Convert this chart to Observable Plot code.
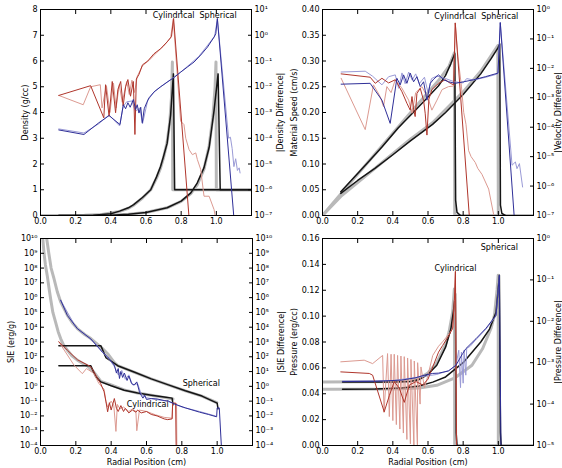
<!DOCTYPE html>
<html><head><meta charset="utf-8">
<script src="https://cdn.jsdelivr.net/npm/d3@7"></script>
<script src="https://cdn.jsdelivr.net/npm/@observablehq/plot@0.6"></script>
<style>
body{margin:0;background:#fff;}
#fig{position:relative;width:562px;height:468px;overflow:hidden;background:#fff;}
#fig svg{position:absolute;}
</style></head><body><div id="fig"></div>
<script>
// ---------- tick values ----------
const xTicks = [0, 0.2, 0.4, 0.6, 0.8, 1.0];
const densTicks = [0, 1, 2, 3, 4, 5, 6, 7, 8];
const densDiffTicks = [1e-7, 1e-6, 1e-5, 1e-4, 1e-3, 1e-2, 1e-1, 1e0, 1e1];
const speedTicks = [0, 0.05, 0.10, 0.15, 0.20, 0.25, 0.30, 0.35, 0.40];
const velDiffTicks = [1e-7, 1e-6, 1e-5, 1e-4, 1e-3, 1e-2, 1e-1, 1e0];
const sieTicks = [1e-4, 1e-3, 1e-2, 1e-1, 1e0, 1e1, 1e2, 1e3, 1e4, 1e5, 1e6, 1e7, 1e8, 1e9, 1e10];
const presTicks = [0, 0.02, 0.04, 0.06, 0.08, 0.10, 0.12, 0.14, 0.16];
const presDiffTicks = [1e-5, 1e-4, 1e-3, 1e-2, 1e-1, 1e0];

// ---------- Density panel ----------
const denExactCyl = [[0,0],[0.25,0.01],[0.35,0.04],[0.45,0.16],[0.5,0.28],[0.53,0.4],[0.58,0.68],[0.627,1.0],[0.66,1.45],[0.683,1.85],[0.7,2.25],[0.72,2.85],[0.735,3.6],[0.745,4.6],[0.75,5.96],[0.752,1.0],[1.2,1.0]];
const denSimCyl = [[0.104,0],[0.3,0.01],[0.4,0.07],[0.45,0.17],[0.5,0.3],[0.53,0.42],[0.58,0.7],[0.627,1.0],[0.66,1.5],[0.683,1.9],[0.7,2.3],[0.72,2.8],[0.74,3.9],[0.756,5.5],[0.763,1.0],[1.2,1.0]];
const denExactSph = [[0,0],[0.4,0.01],[0.5,0.05],[0.6,0.12],[0.72,0.3],[0.8,0.55],[0.855,0.85],[0.892,1.2],[0.93,1.8],[0.959,2.7],[0.98,3.8],[0.993,5.0],[0.998,5.96],[1.0,1.0],[1.2,1.0]];
const denSimSph = [[0.104,0],[0.4,0.01],[0.5,0.05],[0.6,0.12],[0.72,0.3],[0.8,0.56],[0.855,0.88],[0.892,1.27],[0.93,1.86],[0.959,2.64],[0.987,4.07],[1.01,5.5],[1.022,1.0],[1.2,1.0]];
const denDiffCylDark = [[0.104,4.6e-3],[0.285,1.1e-2],[0.36,6.2e-4],[0.37,1.2e-2],[0.39,7.2e-4],[0.408,1.6e-2],[0.427,9.8e-4],[0.44,7.8e-3],[0.456,1.6e-2],[0.47,1.8e-3],[0.484,1e-2],[0.497,1.9e-2],[0.512,4.3e-3],[0.528,1.6e-2],[0.537,1.4e-4],[0.545,2e-2],[0.56,3e-2],[0.58,7.1e-2],[0.61,1e-1],[0.645,1.9e-1],[0.683,3e-1],[0.72,5.5e-1],[0.745,8.9e-1],[0.757,4.5],[0.845,8e-8]];
const denDiffCylLight = [[0.104,4.6e-3],[0.243,2.0e-3],[0.285,1.0e-2],[0.34,1.2e-2],[0.35,1.5e-3],[0.375,1.1e-2],[0.395,1.0e-3],[0.415,1.4e-2],[0.43,1.5e-3],[0.448,1.2e-2],[0.465,2.5e-3],[0.49,1.6e-2],[0.505,5e-3],[0.52,1.8e-2],[0.535,6e-3],[0.55,2.5e-2],[0.58,6.5e-2],[0.62,1.1e-1],[0.66,2.1e-1],[0.7,3.8e-1],[0.74,8e-1],[0.755,4.2],[0.797,4.6e-4],[0.816,3.4e-4],[0.826,1.0e-4],[0.845,3.6e-5],[0.864,2.3e-5],[0.883,2.7e-5],[0.892,1.5e-5],[0.911,6.2e-6],[0.93,5.6e-7],[0.959,5.6e-7],[0.987,1.7e-7],[0.996,8e-8]];
const denDiffSphDark = [[0.104,2.1e-4],[0.247,1.4e-4],[0.332,4e-4],[0.39,7.6e-4],[0.452,3.4e-4],[0.471,2.0e-3],[0.484,1.4e-3],[0.497,2.4e-3],[0.51,1.6e-3],[0.528,3.2e-3],[0.541,1.3e-3],[0.55,2.0e-3],[0.56,9.5e-4],[0.57,1.6e-3],[0.579,4e-4],[0.59,1.4e-3],[0.604,2.4e-3],[0.617,3.7e-3],[0.645,6.2e-3],[0.683,1e-2],[0.72,1.5e-2],[0.76,2.3e-2],[0.797,3.7e-2],[0.835,5.8e-2],[0.873,9.1e-2],[0.911,1.7e-1],[0.95,3.5e-1],[0.987,8.5e-1],[0.997,1.15],[1.006,4.5],[1.1,8e-8]];
const denDiffSphLight = [[0.104,2.3e-4],[0.247,1.6e-4],[0.33,3.6e-4],[0.39,8e-4],[0.45,3.0e-4],[0.47,1.7e-3],[0.49,2.6e-3],[0.52,2.8e-3],[0.54,1.1e-3],[0.565,1.5e-3],[0.58,3.6e-4],[0.61,3e-3],[0.65,6.8e-3],[0.7,1.2e-2],[0.8,3.8e-2],[0.9,1.5e-1],[0.99,9e-1],[1.006,4.2],[1.07,1e-4],[1.08,1.1e-4],[1.09,4e-5],[1.1,7.9e-6],[1.11,1.6e-5],[1.12,5.6e-6],[1.13,7.1e-6],[1.135,4.5e-6]];

// ---------- Velocity panel ----------
const velExactCyl = [[0,0],[0.104,0.042],[0.338,0.135],[0.527,0.21],[0.66,0.262],[0.72,0.29],[0.75,0.316],[0.752,0],[1.2,0]];
const velSimCyl = [[0.104,0.046],[0.15,0.063],[0.25,0.1],[0.338,0.133],[0.43,0.17],[0.527,0.204],[0.6,0.23],[0.66,0.252],[0.7,0.272],[0.73,0.295],[0.752,0.314],[0.757,0.03],[0.765,0.006],[0.785,0]];
const velExactSph = [[0,0],[0.104,0.037],[0.3,0.092],[0.5,0.148],[0.626,0.18],[0.8,0.24],[0.9,0.28],[0.997,0.33],[1.0,0],[1.2,0]];
const velSimSph = [[0.104,0.043],[0.2,0.068],[0.3,0.092],[0.4,0.118],[0.5,0.145],[0.626,0.177],[0.7,0.2],[0.8,0.235],[0.9,0.275],[0.96,0.305],[0.997,0.325],[1.008,0.333],[1.012,0.02],[1.02,0.004],[1.04,0]];
const velDiffCylDark = [[0.106,6.5e-3],[0.271,5.0e-3],[0.3,3.1e-3],[0.338,4.6e-3],[0.376,3.2e-3],[0.414,4.1e-3],[0.452,1.6e-3],[0.48,6.5e-4],[0.499,3.8e-4],[0.509,1.1e-3],[0.518,4e-4],[0.527,2.3e-4],[0.537,1.4e-3],[0.556,2.1e-3],[0.575,8e-4],[0.584,3e-4],[0.594,5.4e-5],[0.605,9e-4],[0.622,1.9e-3],[0.66,3.1e-3],[0.698,4.1e-3],[0.727,3.1e-3],[0.746,2.75e-3],[0.755,3.5e-1],[0.836,8e-8]];
const velDiffCylLight = [[0.106,4.6e-3],[0.243,8.3e-5],[0.29,2.75e-3],[0.328,1.1e-3],[0.347,5e-4],[0.366,2.4e-3],[0.39,1.5e-3],[0.414,4.1e-3],[0.45,2.2e-3],[0.49,8.3e-4],[0.509,3e-4],[0.53,1.5e-3],[0.566,2.4e-3],[0.604,8.3e-4],[0.622,3.8e-4],[0.651,8.3e-4],[0.68,1.9e-3],[0.717,2.4e-3],[0.746,2.5e-3],[0.755,3.5e-1],[0.77,2.5e-2],[0.79,2.5e-3],[0.803,3.2e-4],[0.816,1.26e-4],[0.831,1.6e-5],[0.845,1e-5],[0.869,6.3e-6],[0.883,4e-6],[0.907,2.5e-6],[0.945,7.9e-7],[0.973,1.1e-7],[0.98,8e-8]];
const velDiffSphDark = [[0.106,2.9e-3],[0.271,3.1e-3],[0.338,8.3e-4],[0.385,1.35e-4],[0.423,4.6e-3],[0.442,2.75e-3],[0.461,6e-3],[0.48,3.1e-3],[0.499,6.9e-3],[0.518,3.5e-3],[0.537,5.2e-3],[0.556,2.4e-3],[0.575,3.5e-3],[0.594,8.3e-4],[0.613,3.1e-3],[0.632,4.3e-3],[0.66,6e-3],[0.689,4.1e-3],[0.717,3.5e-3],[0.755,3.1e-3],[0.803,3.5e-3],[0.86,4.1e-3],[0.926,5.2e-3],[0.998,6.9e-3],[1.011,3.6e-1],[1.091,8e-8]];
const velDiffSphLight = [[0.106,7.5e-3],[0.243,8e-3],[0.285,5.4e-3],[0.338,2.75e-3],[0.376,5.2e-3],[0.414,6e-3],[0.433,2.1e-3],[0.452,7e-3],[0.47,3e-3],[0.49,7.5e-3],[0.51,4e-3],[0.53,6.5e-3],[0.55,3e-3],[0.58,5e-3],[0.6,1.5e-3],[0.62,4.5e-3],[0.65,5.5e-3],[0.7,4.5e-3],[0.75,3.5e-3],[0.8,3.2e-3],[0.82,4.5e-3],[0.86,4e-3],[0.93,5e-3],[0.998,6.5e-3],[1.011,3.6e-1],[1.078,5.1e-6],[1.097,6.6e-6],[1.106,3.9e-6],[1.12,5.8e-6],[1.138,9.3e-7]];

// ---------- SIE panel ----------
const sieExactCyl = [[0.013,1e10],[0.02,1e9],[0.028,1.6e8],[0.038,3.2e7],[0.05,3.2e6],[0.057,8.7e5],[0.07,1e5],[0.085,2.3e4],[0.1,5e3],[0.114,1.7e3],[0.13,6.3e2],[0.152,2.8e2],[0.18,1.1e2],[0.209,59],[0.24,35],[0.266,24],[0.3,10],[0.342,2.2],[0.4,1.26],[0.474,0.58],[0.55,0.35],[0.627,0.25],[0.7,0.18],[0.75,0.14]];
const sieExactSph = [[0.035,1e10],[0.047,1e9],[0.06,1e8],[0.076,2e7],[0.095,2.5e6],[0.114,5.2e5],[0.152,6.5e4],[0.18,2e4],[0.209,8.1e3],[0.25,3.2e3],[0.285,1.7e3],[0.351,3.6e2],[0.38,1.6e2],[0.418,40],[0.437,25],[0.533,8.9],[0.627,3.2],[0.724,1.26],[0.82,0.5],[0.914,0.22],[0.998,0.079]];
const sieSimCyl = [[0.104,24.5],[0.285,24.5],[0.313,4.5],[0.342,2.0],[0.4,1.1],[0.474,0.55],[0.55,0.35],[0.627,0.25],[0.7,0.19],[0.745,0.16],[0.75,0.056]];
const sieSimSph = [[0.104,550],[0.342,550],[0.37,89],[0.437,25],[0.533,8.9],[0.627,3.2],[0.724,1.26],[0.82,0.5],[0.914,0.22],[1.0,0.074],[1.005,0.03]];
const sieDiffCylDark = [[0.104,1.05e3],[0.152,2.8e2],[0.209,63],[0.266,28],[0.285,21],[0.313,5.8],[0.34,1.6],[0.36,0.43],[0.37,0.1],[0.38,0.019],[0.39,0.079],[0.4,0.025],[0.418,0.15],[0.43,0.032],[0.44,0.02],[0.455,0.05],[0.47,0.02],[0.48,0.032],[0.5,0.016],[0.52,0.025],[0.54,0.018],[0.55,0.025],[0.57,0.016],[0.6,0.02],[0.627,0.0126],[0.66,0.01],[0.7,0.0063],[0.72,0.0056],[0.745,0.0063],[0.748,0.074],[0.765,0.074],[0.768,5e-5]];
const sieDiffCylLight = [[0.104,1e3],[0.19,27],[0.237,7.2],[0.26,16],[0.3,7.9],[0.33,1.6],[0.36,0.63],[0.37,0.1],[0.38,0.04],[0.4,0.1],[0.415,0.05],[0.427,9e-4],[0.435,0.06],[0.45,0.03],[0.47,0.04],[0.5,0.02],[0.52,0.03],[0.54,0.02],[0.545,1e-3],[0.56,0.025],[0.6,0.02],[0.65,0.012],[0.7,0.008],[0.745,0.007],[0.748,0.07],[0.77,0.07],[0.772,5e-5]];
const sieDiffSphDark = [[0.114,6.8e5],[0.152,6.3e4],[0.209,7.9e3],[0.285,1.6e3],[0.351,2e2],[0.38,100],[0.4,50],[0.418,27],[0.43,7.9],[0.44,16],[0.447,3.4],[0.455,10],[0.465,4],[0.475,7.9],[0.49,2.5],[0.5,5],[0.515,1.6],[0.53,1.2],[0.545,2],[0.56,0.43],[0.57,0.25],[0.58,0.16],[0.59,0.25],[0.6,0.13],[0.627,0.15],[0.66,0.14],[0.7,0.11],[0.724,0.1],[0.76,0.063],[0.82,0.035],[0.9,0.018],[0.95,0.0126],[0.997,0.0087],[1.0,0.035],[1.012,0.035],[1.025,5e-5]];
const sieDiffSphLight = [[0.114,6.5e5],[0.2,1e4],[0.3,1.1e3],[0.36,1.6e2],[0.4,45],[0.42,20],[0.44,6],[0.46,12],[0.48,3],[0.5,6],[0.52,1.3],[0.55,1.5],[0.57,0.3],[0.6,0.17],[0.65,0.13],[0.72,0.1],[0.8,0.04],[0.9,0.02],[0.99,0.01]];

// ---------- Pressure panel ----------
const presExactCyl = [[0,0.049],[0.45,0.0495],[0.5,0.05],[0.55,0.052],[0.6,0.056],[0.65,0.064],[0.7,0.078],[0.72,0.088],[0.74,0.103],[0.75,0.121],[0.752,0],[1.2,0]];
const presSimCyl = [[0.114,0.049],[0.4,0.049],[0.5,0.0495],[0.55,0.051],[0.6,0.055],[0.65,0.062],[0.7,0.076],[0.73,0.09],[0.745,0.104],[0.756,0.1175],[0.76,0.01],[0.765,0]];
const presExactSph = [[0,0.0435],[0.4,0.0437],[0.55,0.0445],[0.65,0.0465],[0.75,0.052],[0.85,0.062],[0.911,0.075],[0.958,0.0904],[0.978,0.1007],[0.993,0.1206],[0.999,0.1316],[1.0,0],[1.2,0]];
const presSimSph = [[0.114,0.0435],[0.3,0.0437],[0.45,0.0445],[0.55,0.046],[0.627,0.049],[0.7,0.053],[0.8,0.064],[0.9,0.08],[0.95,0.09],[0.987,0.103],[1.006,0.1316],[1.012,0.01],[1.016,0]];
const presDiffCylDark = [[0.104,6e-4],[0.266,5.5e-4],[0.285,5e-4],[0.351,6.5e-5],[0.38,1.6e-4],[0.408,3.5e-4],[0.437,2.4e-4],[0.465,1.1e-4],[0.494,2.9e-4],[0.532,3.5e-4],[0.57,2.9e-4],[0.6,4e-4],[0.627,7.9e-4],[0.66,1.8e-3],[0.683,2.6e-3],[0.72,4.6e-3],[0.74,6.8e-3],[0.75,3.2e-2],[0.756,1.6e-1],[0.763,8e-6]];
const presDiffCylLight = [[0.104,1.05e-3],[0.237,1.15e-3],[0.285,9.5e-4],[0.342,1.5e-3],[0.35,6.3e-5],[0.37,1.66e-3],[0.38,5e-5],[0.39,1.6e-3],[0.4,4e-5],[0.408,1.6e-3],[0.42,3.2e-5],[0.427,1.5e-3],[0.44,2.5e-5],[0.446,1.45e-3],[0.46,2e-5],[0.465,1.4e-3],[0.48,1.4e-5],[0.484,1.3e-3],[0.5,1.1e-5],[0.503,1.2e-3],[0.52,9e-6],[0.522,1.1e-3],[0.54,9e-6],[0.541,1e-3],[0.555,1e-4],[0.56,7.9e-4],[0.58,2.5e-4],[0.6,5e-4],[0.627,1.5e-3],[0.66,2.5e-3],[0.683,3.2e-3],[0.72,5e-3],[0.745,7.1e-3],[0.756,1.6e-1],[0.762,8e-6]];
const presDiffSphDark = [[0.114,3.5e-4],[0.3,3.55e-4],[0.45,3.8e-4],[0.527,4.3e-4],[0.58,5e-4],[0.626,5.5e-4],[0.66,5.6e-4],[0.716,6.3e-4],[0.759,8.7e-4],[0.797,1.66e-3],[0.816,2.2e-3],[0.873,3.8e-3],[0.93,6.8e-3],[0.987,1.4e-2],[1.006,1.3e-1],[1.015,8e-6]];
const presDiffSphLight = [[0.114,3.6e-4],[0.4,3.7e-4],[0.55,4.5e-4],[0.65,5.2e-4],[0.72,6.5e-4],[0.759,8.7e-4],[0.775,2e-3],[0.785,2.5e-4],[0.79,1.8e-3],[0.8,3.2e-4],[0.805,2e-3],[0.815,5e-4],[0.82,2.2e-3],[0.84,2.5e-3],[0.87,3.5e-3],[0.93,6.5e-3],[0.987,1.35e-2],[1.006,1.3e-1]];

// ---------- annotations ----------
const densNotes = [{x:0.757,y:7.77,t:"Cylindrical"},{x:1.01,y:7.77,t:"Spherical"}];
const velNotes = [{x:0.755,y:0.386,t:"Cylindrical"},{x:1.008,y:0.386,t:"Spherical"}];
const sieNotes = [{x:0.91,y:1.57,t:"Spherical"},{x:0.607,y:0.06,t:"Cylindrical"}];
const presNotes = [{x:1.006,y:0.1533,t:"Spherical"},{x:0.756,y:0.1368,t:"Cylindrical"}];

// ---------- styling ----------
const GRAY = "#b9b9b9", BLACK = "#151515";
const RED_D = "#b0362c", RED_L = "#dc9a91", BLUE_D = "#2f2f98", BLUE_L = "#9a9ad6";
const FONT = "DejaVu Sans";
const supMap = {"-":"\u207B","0":"\u2070","1":"\u00B9","2":"\u00B2","3":"\u00B3","4":"\u2074","5":"\u2075","6":"\u2076","7":"\u2077","8":"\u2078","9":"\u2079"};
const pow10 = d => "10" + String(Math.round(Math.log10(d))).split("").map(c => supMap[c]).join("");

function lines(series, stroke, strokeWidth) {
  return series.map(s => Plot.line(s, {x: d => d[0], y: d => d[1], stroke, strokeWidth, clip: true, strokeLinejoin: "round"}));
}

const fig = document.getElementById("fig");

function panel(cfg) {
  const common = {
    width: 281, height: 234,
    marginLeft: cfg.m[0], marginRight: cfg.m[1], marginTop: cfg.m[2], marginBottom: cfg.m[3],
    style: {background: "transparent", overflow: "visible", fontFamily: FONT, color: "black"}
  };
  const leftPlot = Plot.plot({
    ...common,
    x: {domain: [0, 1.2]},
    y: cfg.yLeft,
    marks: [
      ...lines(cfg.exact, GRAY, 3),
      ...lines(cfg.sim, BLACK, 1.5),
      Plot.text(cfg.notes, {x: "x", y: "y", text: "t", fontSize: 8, fill: "black", fontFamily: FONT}),
      Plot.frame({stroke: "black", strokeWidth: 1}),
      Plot.axisX(xTicks, {anchor: "bottom", tickSize: -4, tickPadding: 7, fontSize: 8, tickFormat: d3.format(".1f"),
        label: cfg.xLabel, labelAnchor: "center", labelOffset: 19, labelArrow: "none"}),
      Plot.axisX(xTicks, {anchor: "top", tickSize: -4, tickFormat: () => "", label: null}),
      Plot.axisY(cfg.leftTicks, {anchor: "left", tickSize: -4, tickPadding: 7, fontSize: 8, tickFormat: cfg.leftFmt,
        label: cfg.leftLabel, labelAnchor: "center", labelOffset: cfg.lOff, labelArrow: "none"})
    ]
  });
  const rightPlot = Plot.plot({
    ...common,
    x: {domain: [0, 1.2], axis: null},
    y: cfg.yRight,
    marks: [
      ...cfg.diffs.flatMap(([s, c]) => lines([s], c, 1)),
      Plot.axisY(cfg.rightTicks, {anchor: "right", tickSize: -4, tickPadding: 7, fontSize: 8, tickFormat: pow10,
        label: cfg.rightLabel, labelAnchor: "center", labelOffset: cfg.rOff, labelArrow: "none"})
    ]
  });
  for (const svg of [leftPlot, rightPlot]) {
    svg.style.left = cfg.left + "px";
    svg.style.top = cfg.top + "px";
  }
  fig.appendChild(leftPlot);
  fig.appendChild(rightPlot);
}

panel({
  left: 0, top: 0, m: [40, 30, 9, 19],
  yLeft: {domain: [0, 8]}, yRight: {type: "log", domain: [1e-7, 10]},
  exact: [denExactCyl, denExactSph], sim: [denSimCyl, denSimSph],
  diffs: [[denDiffCylLight, RED_L], [denDiffSphLight, BLUE_L], [denDiffCylDark, RED_D], [denDiffSphDark, BLUE_D]],
  notes: densNotes, leftTicks: densTicks, leftFmt: d3.format("d"), rightTicks: densDiffTicks,
  leftLabel: "Density (g/cc)", rightLabel: "|Density Difference|", xLabel: null, lOff: 18, rOff: 31
});
panel({
  left: 281, top: 0, m: [41, 29, 9, 19],
  yLeft: {domain: [0, 0.4]}, yRight: {type: "log", domain: [1e-7, 1]},
  exact: [velExactCyl, velExactSph], sim: [velSimCyl, velSimSph],
  diffs: [[velDiffCylLight, RED_L], [velDiffSphLight, BLUE_L], [velDiffCylDark, RED_D], [velDiffSphDark, BLUE_D]],
  notes: velNotes, leftTicks: speedTicks, leftFmt: d3.format(".2f"), rightTicks: velDiffTicks,
  leftLabel: "Material Speed (cm/s)", rightLabel: "|Velocity Difference|", xLabel: null, lOff: 31, rOff: 27
});
panel({
  left: 0, top: 234, m: [40, 29, 4, 23],
  yLeft: {type: "log", domain: [1e-4, 1e10]}, yRight: {type: "log", domain: [1e-4, 1e10]},
  exact: [sieExactCyl, sieExactSph], sim: [sieSimCyl, sieSimSph],
  diffs: [[sieDiffCylLight, RED_L], [sieDiffSphLight, BLUE_L], [sieDiffCylDark, RED_D], [sieDiffSphDark, BLUE_D]],
  notes: sieNotes, leftTicks: sieTicks, leftFmt: pow10, rightTicks: sieTicks,
  leftLabel: "SIE (erg/g)", rightLabel: "|SIE Difference|", xLabel: "Radial Position (cm)", lOff: 32, rOff: 31
});
panel({
  left: 281, top: 234, m: [41, 29, 4, 23],
  yLeft: {domain: [0, 0.16]}, yRight: {type: "log", domain: [1e-5, 1]},
  exact: [presExactCyl, presExactSph], sim: [presSimCyl, presSimSph],
  diffs: [[presDiffCylLight, RED_L], [presDiffSphLight, BLUE_L], [presDiffCylDark, RED_D], [presDiffSphDark, BLUE_D]],
  notes: presNotes, leftTicks: presTicks, leftFmt: d3.format(".2f"), rightTicks: presDiffTicks,
  leftLabel: "Pressure (erg/cc)", rightLabel: "|Pressure Difference|", xLabel: "Radial Position (cm)", lOff: 31, rOff: 27
});
</script></body></html>
